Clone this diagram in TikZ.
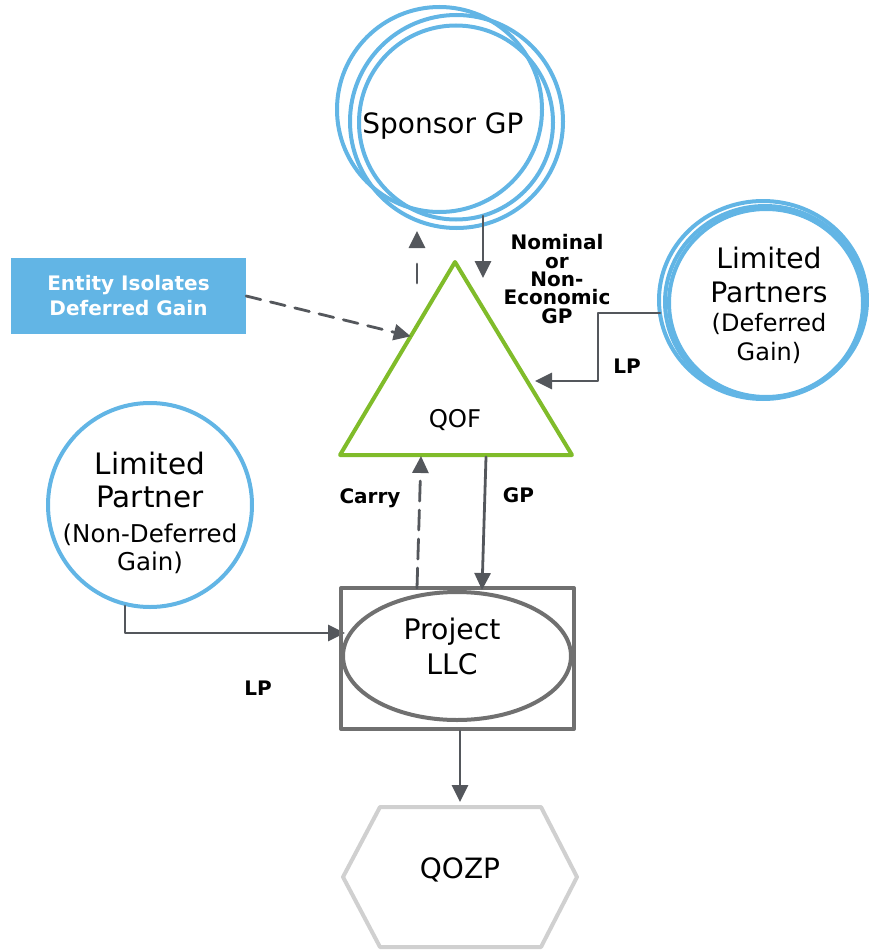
\documentclass[tikz,border=0pt]{standalone}
\usepackage{fontspec}
\setmainfont{DejaVu Sans}
\usepackage{tikz}
\usetikzlibrary{arrows.meta,calc}
\definecolor{ringblue}{RGB}{98,181,229}
\definecolor{qofgreen}{RGB}{128,188,42}
\definecolor{arrowgray}{RGB}{84,87,92}
\definecolor{boxgray}{RGB}{112,112,112}
\definecolor{hexgray}{RGB}{208,208,208}

\begin{document}
\begin{tikzpicture}[line cap=round,line join=round,>={Triangle[length=17pt,width=16pt]},x=1pt,y=-1pt,
  ring/.style={draw=ringblue,line width=4pt},
  conn/.style={draw=arrowgray,line width=2.8pt,->},
  dashconn/.style={conn,dash pattern=on 15pt off 10pt},
  lbl/.style={font=\fontsize{20}{18.4}\selectfont\bfseries,align=center,inner sep=0pt},
  big/.style={font=\fontsize{28}{33}\selectfont,align=center,inner sep=0pt}]
\useasboundingbox (0,0) rectangle (868,950);
% Sponsor GP
\draw[ring] (439.5,109.5) circle (102.5);
\draw[ring] (456.5,121.5) circle (106.5);
\draw[ring] (456,122.5) circle (97);
\draw (443,126) node[big] (sponsor) {Sponsor GP};
% QOF
\coordinate (apex) at (455,262);
\coordinate (baseL) at (340,455);
\coordinate (baseR) at (572,455);
\draw[qofgreen,line width=4pt] (apex) -- (baseL) -- (baseR) -- cycle;
\draw (455,420.5) node[font=\fontsize{24.4}{28}\selectfont,inner sep=0pt] (qof) {QOF};
\coordinate (gpout) at (483,216);
\coordinate (gpin) at (483,278);
\draw[conn] (gpout) -- (gpin);
\coordinate (upfoot) at (417,283);
\coordinate (uptip) at (417,231);
\draw[conn,dash pattern=on 19pt off 40pt] (upfoot) -- (uptip);
% Entity box
\draw (128.5,296) node[fill=ringblue,minimum width=235pt,minimum height=76pt,text=white,
  font=\fontsize{20}{25}\selectfont\bfseries,align=center,inner sep=0pt] (entity) {Entity Isolates\\Deferred Gain};
\draw[dashconn] (entity.east) -- ($(apex)!0.385!(baseL)$);
\draw (557,279) node[lbl] (nominal) {Nominal\\or\\Non-\\Economic\\GP};
% Limited Partners (Deferred Gain)
\draw[ring] (763,300) ellipse (104 and 99);
\draw[ring] (765,302) ellipse (100 and 96);
\draw[ring] (766,303) ellipse (97 and 94);
\draw (769,305.4) node[font=\fontsize{24}{29}\selectfont,align=center,inner sep=0pt] (lpd)
  {{\fontsize{28.2}{33}\selectfont Limited}\\[5pt]{\fontsize{28.2}{33}\selectfont Partners}\\(Deferred\\Gain)};
\coordinate (lpout) at (660,313);
\coordinate (lpin) at (535,381);
\draw[conn] (lpout) -- ++(-62,0) |- (lpin);
\draw (627,366) node[lbl] (lpright) {LP};
% Limited Partner (Non-Deferred Gain)
\draw[ring] (150,505) circle (102);
\draw (150,512.5) node[font=\fontsize{24.5}{28}\selectfont,align=center,inner sep=0pt] (lpn)
  {{\fontsize{29.5}{33}\selectfont Limited}\\[5pt]{\fontsize{29.5}{33}\selectfont Partner}\\[7pt](Non-Deferred\\Gain)};
\coordinate (lpnout) at (125,606);
\coordinate (lpnin) at (345,633);
\draw[conn] (lpnout) |- (lpnin);
\draw (258,688) node[lbl] (lpleft) {LP};
% Project LLC
\draw (457.5,658.5) node[draw=boxgray,line width=4pt,minimum width=233pt,minimum height=141pt] (llcbox) {};
\draw[boxgray,line width=4pt] (457,656) ellipse (114 and 64);
\draw (452,646) node[font=\fontsize{28.3}{35}\selectfont,align=center,inner sep=0pt] (project) {Project\\LLC};
\coordinate (carryfoot) at (417,588);
\coordinate (carrytop) at (421,456);
\draw[dashconn,dash pattern=on 20pt off 9pt] (carryfoot) -- (carrytop);
\coordinate (gpfoot) at (486,457);
\coordinate (gptip) at (482,590);
\draw[conn] (gpfoot) -- (gptip);
\draw (370,498) node[lbl] (carry) {Carry};
\draw (518.5,495) node[lbl] (gp) {GP};
% QOZP
\draw[hexgray,line width=4pt] (343,877) -- (380,807) -- (541,807) -- (577,877) -- (541,947) -- (380,947) -- cycle;
\draw (460,870) node[font=\fontsize{28}{33}\selectfont,inner sep=0pt] (qozp) {QOZP};
\coordinate (qozptop) at (460,802);
\draw[conn] (llcbox.south -| qozptop) -- (qozptop);
\end{tikzpicture}
\end{document}
